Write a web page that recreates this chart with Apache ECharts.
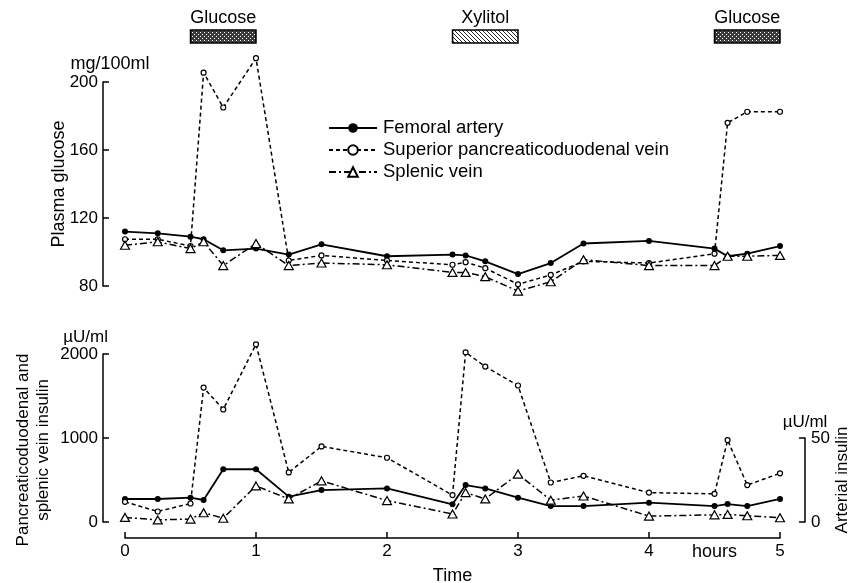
<!DOCTYPE html>
<html>
<head>
<meta charset="utf-8">
<script src="https://cdn.jsdelivr.net/npm/echarts@6/dist/echarts.min.js"></script>
<style>
  html, body { margin: 0; padding: 0; background: #fff; }
  #chart { width: 852px; height: 583px; }
</style>
</head>
<body>
<div id="chart"></div>
<script>
// Sampling times (hours)
const hours = [0, 0.25, 0.5, 0.6, 0.75, 1, 1.25, 1.5, 2, 2.5, 2.6, 2.75, 3, 3.25, 3.5, 4, 4.5, 4.6, 4.75, 5];

// Plasma glucose, mg/100ml
const femoralGlucose    = [112, 111, 109, 107.5, 101, 102, 98.5, 104.5, 97.5, 98.5, 98, 94.5, 87, 93.5, 105, 106.5, 102, 97.5, 99, 103.5];
const pancreaticGlucose = [107.5, 107.5, 103.5, 205.5, 185, 214, 95, 98, 95, 92.5, 94, 90.5, 81, 86.5, 94.5, 93.5, 99, 176, 182.5, 182.5];
const splenicGlucose    = [104, 106, 102, 106, 92, 105, 92, 93.5, 92.5, 88, 88, 85.5, 77, 82.5, 95.5, 92, 92, 97.5, 97.5, 98];

// Vein insulin, µU/ml (left scale)
const pancreaticInsulin = [240, 125, 220, 1600, 1340, 2115, 590, 900, 765, 320, 2020, 1850, 1625, 470, 550, 350, 335, 975, 440, 580];
const splenicInsulin    = [55, 25, 35, 110, 45, 430, 275, 490, 255, 95, 350, 275, 570, 260, 310, 70, 85, 90, 75, 50];
// Arterial insulin, µU/ml (right scale)
const femoralInsulin    = [13.7, 13.7, 14.5, 13.1, 31.4, 31.4, 15.1, 19, 20, 10.5, 22, 20, 14.5, 9.5, 9.5, 11.5, 9.5, 10.7, 9.5, 13.7];

// Infusion periods (hours)
const infusionNames = ['Glucose', 'Xylitol', 'Glucose'];
const infusionStart = [0.5, 2.5, 4.5];
const infusionEnd   = [1, 3, 5];

// Axis ticks
const timeTicks = [0, 1, 2, 3, 4, 5];
const timeLabels = [0, 1, 2, 3, 4, 4.5, 5];

const FONT = "'Liberation Sans', Arial, sans-serif";
const FS = 17;
const FS_TEXT = 18;

function pairs(xs, ys) { return xs.map((x, i) => [x, ys[i]]); }

// Fill patterns for the infusion boxes
function makePattern(kind) {
  const c = document.createElement('canvas');
  c.width = 4; c.height = 4;
  const g = c.getContext('2d');
  if (kind === 'Glucose') {
    g.fillStyle = '#3a3a3a'; g.fillRect(0, 0, 4, 4);
    g.fillStyle = '#fff';
    g.fillRect(0, 0, 1, 1); g.fillRect(2, 2, 1, 1);
  } else {
    g.fillStyle = '#fff'; g.fillRect(0, 0, 4, 4);
    g.fillStyle = '#222';
    for (let i = 0; i < 4; i++) g.fillRect(i, i, 1, 1);
  }
  return { image: c, repeat: 'repeat' };
}
const patterns = infusionNames.map(makePattern);

const NAMES = ['Femoral artery', 'Superior pancreaticoduodenal vein', 'Splenic vein'];

const femoralStyle = {
  type: 'line', name: NAMES[0], symbol: 'circle', symbolSize: 6, showSymbol: true, clip: false,
  lineStyle: { color: '#000', width: 1.8 },
  itemStyle: { color: '#000', borderColor: '#000', borderWidth: 0 }
};
const pancreaticStyle = {
  type: 'line', name: NAMES[1], symbol: 'circle', symbolSize: 5, showSymbol: true, clip: false,
  lineStyle: { color: '#000', width: 1.5, type: [4, 3] },
  itemStyle: { color: '#fff', borderColor: '#000', borderWidth: 1.2 }
};
const splenicStyle = {
  type: 'line', name: NAMES[2], symbol: 'triangle', symbolSize: [9, 8], showSymbol: true, clip: false,
  lineStyle: { color: '#000', width: 1.5, type: [7, 3, 2, 3] },
  itemStyle: { color: '#fff', borderColor: '#000', borderWidth: 1.2 }
};

const axisLine = { show: true, onZero: false, lineStyle: { color: '#000', width: 1.5 } };
const axisTick = { show: true, inside: true, length: 6, lineStyle: { color: '#000', width: 1.5 } };
const labelStyle = { color: '#000', fontSize: FS, fontFamily: FONT, formatter: v => String(v) };
const nameStyle = { color: '#000', fontSize: FS, fontFamily: FONT };
const noAxisParts = {
  axisLine: { show: false, onZero: false }, axisTick: { show: false }, axisLabel: { show: false },
  splitLine: { show: false }
};

const gridBase = { left: 125, right: 72, containLabel: false, outerBoundsMode: 'none' };

const option = {
  animation: false,
  backgroundColor: '#fff',
  textStyle: { fontFamily: FONT, color: '#000' },
  legend: {
    data: NAMES,
    orient: 'vertical',
    left: 323, top: 113.5,
    itemWidth: 48, itemHeight: 12, itemGap: 3,
    textStyle: { fontSize: 18.5, fontFamily: FONT, color: '#000', padding: [0, 0, 0, 1] },
    selectedMode: false
  },
  grid: [
    Object.assign({ top: 30, height: 13 }, gridBase),
    Object.assign({ top: 82, height: 204 }, gridBase),
    Object.assign({ top: 354, height: 168 }, gridBase),
    Object.assign({ top: 438, height: 84 }, gridBase)
  ],
  xAxis: [
    { gridIndex: 0, type: 'value', min: 0, max: 5, show: false },
    { gridIndex: 1, type: 'value', min: 0, max: 5, show: false },
    {
      gridIndex: 2, type: 'value', position: 'bottom', min: 0, max: 5, offset: 16,
      axisLine: axisLine,
      axisTick: Object.assign({ customValues: timeTicks }, axisTick),
      axisLabel: Object.assign({}, labelStyle, {
        customValues: timeLabels, margin: 5,
        formatter: v => (v === 4.5 ? '{h|hours}' : String(v)),
        rich: { h: { fontSize: FS_TEXT, fontFamily: FONT, color: '#000' } }
      }),
      splitLine: { show: false },
      name: 'Time', nameLocation: 'middle', nameGap: 29, nameMoveOverlap: false,
      nameTextStyle: Object.assign({}, nameStyle, { fontSize: FS_TEXT })
    },
    { gridIndex: 3, type: 'value', min: 0, max: 5, show: false }
  ],
  yAxis: [
    { gridIndex: 0, type: 'value', min: 0, max: 1, show: false },
    {
      gridIndex: 1, type: 'value', position: 'left', min: 80, max: 200, interval: 40, offset: 22,
      axisLine: axisLine, axisTick: axisTick,
      axisLabel: Object.assign({ margin: 5 }, labelStyle),
      splitLine: { show: false },
      name: 'Plasma glucose', nameLocation: 'middle', nameRotate: 90, nameGap: 35,
      nameMoveOverlap: false,
      nameTextStyle: Object.assign({}, nameStyle, { fontSize: FS_TEXT })
    },
    Object.assign({
      gridIndex: 1, type: 'value', position: 'left', min: 80, max: 200, offset: 22,
      name: 'mg/100ml', nameLocation: 'end', nameGap: 9, nameMoveOverlap: false,
      nameTextStyle: Object.assign({ align: 'center', padding: [0, 0, 0, 14] }, nameStyle, { fontSize: FS_TEXT })
    }, noAxisParts),
    {
      gridIndex: 2, type: 'value', position: 'left', min: 0, max: 2000, interval: 1000, offset: 22,
      axisLine: axisLine, axisTick: axisTick,
      axisLabel: Object.assign({ margin: 5 }, labelStyle),
      splitLine: { show: false },
      name: 'Pancreaticoduodenal and\nsplenic vein insulin', nameLocation: 'middle',
      nameRotate: 90, nameGap: 50, nameMoveOverlap: false,
      nameTextStyle: Object.assign({ lineHeight: 20, padding: [0, 0, 0, -24] }, nameStyle)
    },
    Object.assign({
      gridIndex: 2, type: 'value', position: 'left', min: 0, max: 2000, offset: 22,
      name: 'µU/ml', nameLocation: 'end', nameGap: 8, nameMoveOverlap: false,
      nameTextStyle: Object.assign({ align: 'right', padding: [0, -5, 0, 0] }, nameStyle)
    }, noAxisParts),
    {
      gridIndex: 3, type: 'value', position: 'right', min: 0, max: 50, interval: 50, offset: 25,
      axisLine: axisLine, axisTick: axisTick,
      axisLabel: Object.assign({ margin: 6 }, labelStyle),
      splitLine: { show: false },
      name: 'Arterial insulin', nameLocation: 'middle', nameRotate: 90, nameGap: 29,
      nameMoveOverlap: false,
      nameTextStyle: nameStyle
    },
    Object.assign({
      gridIndex: 3, type: 'value', position: 'right', min: 0, max: 50, offset: 25,
      name: 'µU/ml', nameLocation: 'end', nameGap: 7, nameMoveOverlap: false,
      nameTextStyle: Object.assign({ align: 'center' }, nameStyle)
    }, noAxisParts)
  ],
  series: [
    {
      type: 'custom', xAxisIndex: 0, yAxisIndex: 0,
      data: infusionStart.map((s, i) => [s, infusionEnd[i], i]),
      encode: { x: [0, 1] },
      renderItem(params, api) {
        const i = api.value(2);
        const p0 = api.coord([api.value(0), 1]);
        const p1 = api.coord([api.value(1), 0]);
        return {
          type: 'group',
          children: [
            {
              type: 'rect',
              shape: { x: p0[0], y: p0[1], width: p1[0] - p0[0], height: p1[1] - p0[1] },
              style: { fill: patterns[i], stroke: '#000', lineWidth: 1.5 }
            },
            {
              type: 'text',
              style: {
                text: infusionNames[i], x: (p0[0] + p1[0]) / 2, y: p0[1] - 3,
                align: 'center', verticalAlign: 'bottom',
                fontSize: FS_TEXT, fontFamily: FONT, fill: '#000'
              }
            }
          ]
        };
      }
    },
    Object.assign({ xAxisIndex: 1, yAxisIndex: 1, data: pairs(hours, femoralGlucose) }, femoralStyle),
    Object.assign({ xAxisIndex: 1, yAxisIndex: 1, data: pairs(hours, pancreaticGlucose) }, pancreaticStyle),
    Object.assign({ xAxisIndex: 1, yAxisIndex: 1, data: pairs(hours, splenicGlucose) }, splenicStyle),
    Object.assign({ xAxisIndex: 3, yAxisIndex: 5, data: pairs(hours, femoralInsulin) }, femoralStyle),
    Object.assign({ xAxisIndex: 2, yAxisIndex: 3, data: pairs(hours, pancreaticInsulin) }, pancreaticStyle),
    Object.assign({ xAxisIndex: 2, yAxisIndex: 3, data: pairs(hours, splenicInsulin) }, splenicStyle)
  ]
};

const chart = echarts.init(document.getElementById('chart'));
chart.setOption(option);
</script>
</body>
</html>
